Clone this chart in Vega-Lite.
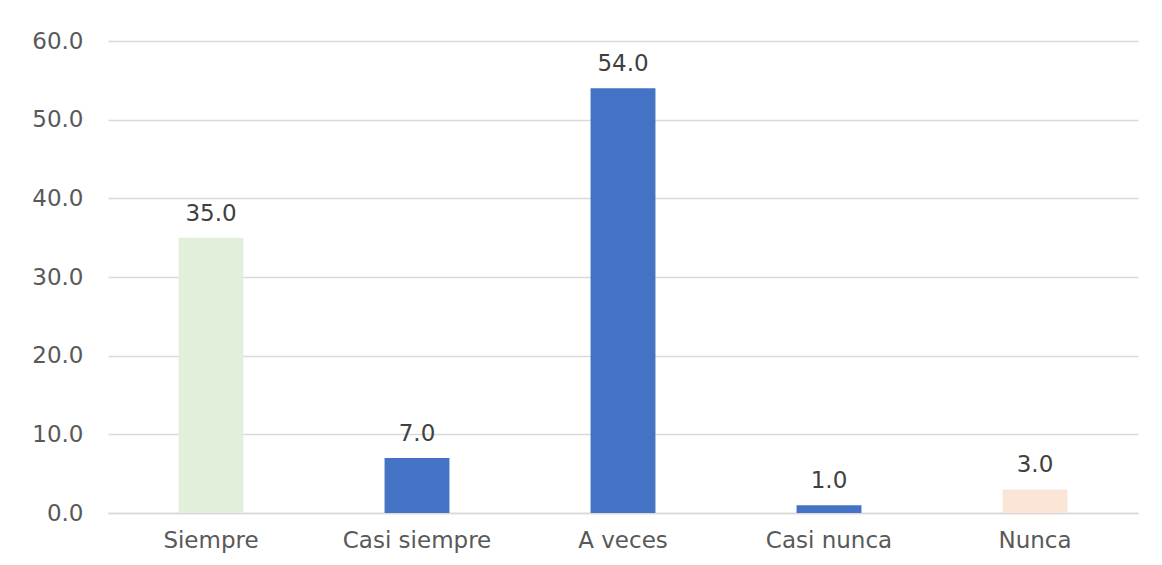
{
  "$schema": "https://vega.github.io/schema/vega-lite/v6.json",
  "width": 1030,
  "height": 472,
  "autosize": "none",
  "padding": {"left": 108, "top": 41, "right": 24, "bottom": 52},
  "background": "white",
  "config": {
    "view": {"stroke": null},
    "font": "DejaVu Sans"
  },
  "data": {
    "values": [
      {"cat": "Siempre", "value": 35.0, "color": "#E2EFDA"},
      {"cat": "Casi siempre", "value": 7.0, "color": "#4472C4"},
      {"cat": "A veces", "value": 54.0, "color": "#4472C4"},
      {"cat": "Casi nunca", "value": 1.0, "color": "#4472C4"},
      {"cat": "Nunca", "value": 3.0, "color": "#FBE5D6"}
    ]
  },
  "encoding": {
    "x": {
      "field": "cat",
      "type": "nominal",
      "sort": null,
      "scale": {"paddingInner": 0.685, "paddingOuter": 0.3425},
      "axis": {
        "title": null,
        "labelAngle": 0,
        "labelFont": "DejaVu Sans",
        "labelFontSize": 23,
        "labelColor": "#595959",
        "labelPadding": 16,
        "ticks": false,
        "domainColor": "#D9D9D9",
        "domainWidth": 1.5
      }
    },
    "y": {
      "field": "value",
      "type": "quantitative",
      "scale": {"domain": [0, 60], "nice": false},
      "axis": {
        "title": null,
        "values": [0, 10, 20, 30, 40, 50, 60],
        "format": ".1f",
        "labelFont": "DejaVu Sans",
        "labelFontSize": 23,
        "labelColor": "#595959",
        "labelPadding": 25,
        "ticks": false,
        "domain": false,
        "gridColor": "#D9D9D9",
        "gridWidth": 1.5
      }
    }
  },
  "layer": [
    {
      "mark": {"type": "bar"},
      "encoding": {
        "color": {"field": "color", "type": "nominal", "scale": null}
      }
    },
    {
      "mark": {"type": "text", "baseline": "bottom", "dy": -12, "fontSize": 23, "color": "#404040", "font": "DejaVu Sans"},
      "encoding": {
        "text": {"field": "value", "type": "quantitative", "format": ".1f"}
      }
    }
  ]
}
